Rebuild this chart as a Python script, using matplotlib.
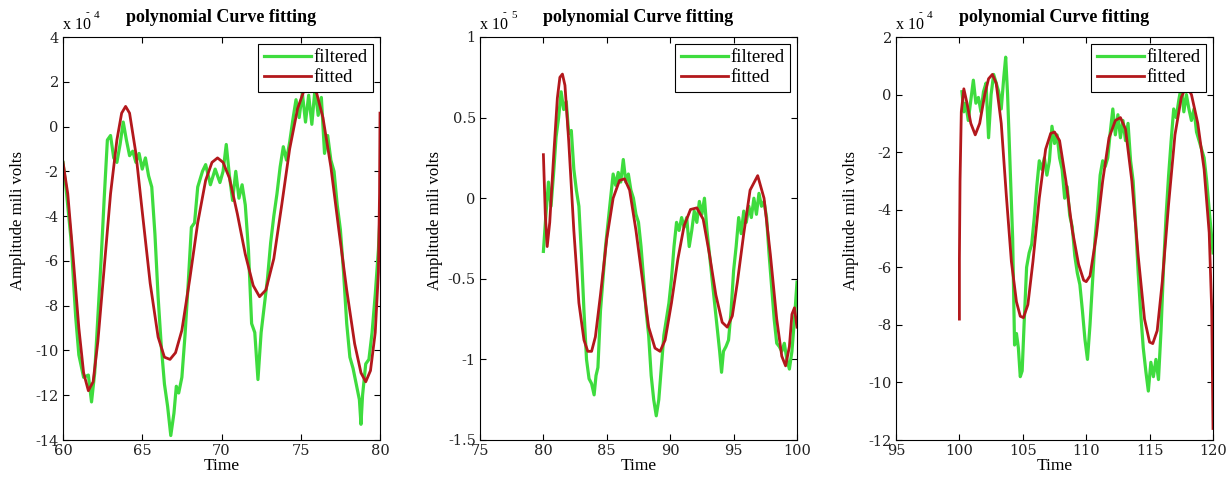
import matplotlib
matplotlib.use("Agg")
import matplotlib.pyplot as plt

plt.rcParams["font.family"] = ["Liberation Serif", "DejaVu Serif"]

GREEN = "#3edc3e"
RED = "#b3181c"

# ---- panel 1 (t = 60..80, x 1e-4) ----
p1_fit_t = [60.0, 60.3, 60.6, 61.0, 61.3, 61.6, 61.9, 62.2, 62.6, 63.0, 63.4, 63.7, 63.95,
            64.2, 64.6, 65.0, 65.5, 66.0, 66.4, 66.75, 67.1, 67.5, 68.0, 68.5, 69.0, 69.4,
            69.75, 70.1, 70.5, 71.0, 71.5, 72.0, 72.4, 72.8, 73.3, 73.8, 74.3, 74.8, 75.2,
            75.6, 76.0, 76.4, 76.9, 77.4, 77.9, 78.4, 78.8, 79.1, 79.4, 79.7, 79.9, 79.97, 80.0]
p1_fit_y = [-1.6, -3.0, -5.5, -9.0, -11.0, -11.8, -11.4, -9.6, -6.3, -3.0, -0.6, 0.6, 0.9,
            0.6, -1.2, -3.8, -7.0, -9.4, -10.3, -10.4, -10.1, -9.1, -6.8, -4.3, -2.4, -1.6,
            -1.4, -1.6, -2.3, -3.9, -5.7, -7.1, -7.6, -7.3, -5.9, -3.5, -1.0, 0.8, 1.6,
            1.8, 1.5, 0.4, -1.8, -4.6, -7.3, -9.7, -11.0, -11.4, -10.9, -9.2, -6.5, -3.0, 0.6]

p1_flt_t = [60.0, 60.2, 60.5, 60.8, 61.0, 61.3, 61.6, 61.8, 62.0, 62.2, 62.4, 62.6, 62.8,
            63.0, 63.2, 63.4, 63.6, 63.8, 64.0, 64.2, 64.4, 64.6, 64.8, 65.0, 65.2, 65.4,
            65.6, 65.8, 66.0, 66.2, 66.4, 66.6, 66.8, 67.0, 67.15, 67.3, 67.5, 67.7, 67.9,
            68.1, 68.3, 68.5, 68.8, 69.0, 69.3, 69.6, 69.9, 70.1, 70.3, 70.5, 70.7, 70.9,
            71.1, 71.3, 71.5, 71.7, 71.9, 72.1, 72.3, 72.5, 72.7, 72.9, 73.1, 73.3, 73.5,
            73.7, 73.9, 74.1, 74.3, 74.5, 74.7, 74.9, 75.1, 75.3, 75.5, 75.7, 75.9, 76.1,
            76.3, 76.5, 76.7, 76.9, 77.1, 77.3, 77.5, 77.7, 77.9, 78.1, 78.3, 78.5, 78.7,
            78.8, 78.9, 79.1, 79.3, 79.5, 79.7, 79.9, 80.0]
p1_flt_y = [-1.6, -2.8, -5.0, -8.5, -10.2, -11.2, -11.1, -12.3, -11.0, -8.5, -6.0, -3.2, -0.6,
            -0.4, -1.4, -1.6, -0.8, 0.2, -0.6, -1.3, -1.1, -1.6, -1.2, -1.9, -1.4, -2.2,
            -2.7, -4.8, -7.6, -9.8, -11.5, -12.5, -13.8, -12.8, -11.6, -11.9, -11.2, -9.3, -7.0,
            -4.5, -4.3, -2.7, -2.0, -1.7, -2.6, -1.9, -2.5, -2.0, -0.8, -2.2, -3.3, -2.0,
            -3.2, -2.6, -3.5, -5.5, -8.8, -9.2, -11.3, -9.2, -8.0, -6.8, -5.2, -4.0, -3.0,
            -1.8, -0.9, -1.5, -0.7, 0.3, 1.2, 0.4, 1.5, 0.2, 1.4, 0.1, 1.7, 0.5,
            1.3, -1.2, -0.4, -1.5, -2.0, -3.5, -4.6, -6.5, -8.8, -10.3, -10.8, -11.5, -12.2,
            -13.3, -12.0, -10.6, -10.4, -9.2, -7.5, -5.5, -4.0]

# ---- panel 2 (t = 80..100, x 1e-5) ----
p2_fit_t = [80.0, 80.15, 80.3, 80.5, 80.8, 81.1, 81.3, 81.5, 81.7, 82.0, 82.4, 82.8, 83.2,
            83.5, 83.8, 84.1, 84.5, 85.0, 85.5, 86.0, 86.4, 86.8, 87.3, 87.8, 88.3, 88.8,
            89.2, 89.6, 90.1, 90.6, 91.1, 91.6, 92.1, 92.6, 93.1, 93.6, 94.1, 94.5, 94.9,
            95.3, 95.8, 96.3, 96.9, 97.4, 97.9, 98.4, 98.8, 99.1, 99.4, 99.6, 99.8, 100.0]
p2_fit_y = [0.27, -0.1, -0.3, -0.15, 0.25, 0.62, 0.75, 0.77, 0.7, 0.35, -0.2, -0.65, -0.88,
            -0.95, -0.95, -0.86, -0.6, -0.25, 0.0, 0.11, 0.12, 0.05, -0.2, -0.5, -0.8, -0.93,
            -0.95, -0.88, -0.65, -0.38, -0.17, -0.07, -0.06, -0.13, -0.35, -0.6, -0.77, -0.8,
            -0.73, -0.52, -0.22, 0.05, 0.14, 0.0, -0.35, -0.75, -0.98, -1.04, -0.92, -0.72, -0.68, -0.8]

p2_flt_t = [80.0, 80.2, 80.4, 80.6, 80.8, 81.0, 81.2, 81.4, 81.6, 81.8, 82.0, 82.2, 82.4,
            82.6, 82.8, 83.0, 83.2, 83.4, 83.6, 83.8, 84.0, 84.15, 84.3, 84.5, 84.7, 84.9,
            85.1, 85.3, 85.5, 85.7, 85.9, 86.1, 86.3, 86.5, 86.7, 86.9, 87.1, 87.3, 87.5,
            87.7, 87.9, 88.1, 88.3, 88.5, 88.7, 88.9, 89.1, 89.3, 89.5, 89.7, 89.9, 90.1,
            90.3, 90.5, 90.7, 90.9, 91.1, 91.3, 91.5, 91.7, 91.9, 92.1, 92.3, 92.5, 92.7,
            92.9, 93.1, 93.3, 93.5, 93.7, 93.9, 94.05, 94.2, 94.4, 94.6, 94.8, 95.0, 95.2,
            95.4, 95.6, 95.8, 96.0, 96.2, 96.4, 96.6, 96.8, 97.0, 97.2, 97.4, 97.6, 97.8,
            98.0, 98.2, 98.4, 98.6, 98.8, 99.0, 99.2, 99.4, 99.6, 99.8, 100.0]
p2_flt_y = [-0.33, -0.1, 0.1, -0.05, 0.15, 0.38, 0.5, 0.66, 0.55, 0.6, 0.4, 0.42, 0.18,
            0.05, -0.05, -0.35, -0.7, -1.0, -1.12, -1.15, -1.22, -1.1, -1.05, -0.7, -0.5, -0.3,
            -0.15, 0.0, 0.15, 0.08, 0.16, 0.1, 0.24, 0.1, 0.15, 0.05, 0.0, -0.1, -0.15,
            -0.3, -0.5, -0.7, -0.85, -1.1, -1.25, -1.35, -1.25, -1.05, -0.85, -0.75, -0.65, -0.5,
            -0.3, -0.15, -0.2, -0.12, -0.18, -0.12, -0.3, -0.2, -0.08, -0.15, -0.02, -0.1, 0.0,
            -0.2, -0.35, -0.5, -0.65, -0.8, -0.95, -1.08, -0.95, -0.92, -0.88, -0.7, -0.45, -0.3,
            -0.12, -0.22, -0.08, -0.15, -0.05, -0.12, 0.0, -0.1, 0.03, -0.05, -0.02, -0.12, -0.35,
            -0.55, -0.75, -0.9, -0.92, -0.95, -0.9, -1.0, -1.06, -0.95, -0.75, -0.52]

# ---- panel 3 (t = 100..120, x 1e-4) ----
p3_fit_t = [100.0, 100.0, 100.05, 100.15, 100.35, 100.6, 100.9, 101.25, 101.6, 102.0, 102.3,
            102.6, 102.9, 103.3, 103.7, 104.1, 104.5, 104.8, 105.05, 105.4, 105.8, 106.3,
            106.8, 107.2, 107.5, 107.9, 108.4, 108.9, 109.4, 109.8, 110.0, 110.3, 110.8,
            111.3, 111.8, 112.3, 112.7, 113.1, 113.6, 114.1, 114.6, 115.0, 115.25, 115.6,
            116.0, 116.5, 117.0, 117.5, 117.9, 118.3, 118.8, 119.3, 119.7, 119.9, 120.0]
p3_fit_y = [-7.8, -5.7, -3.0, -0.6, 0.2, -0.3, -1.0, -1.4, -1.0, 0.0, 0.55,
            0.7, 0.4, -1.0, -3.5, -5.8, -7.2, -7.7, -7.75, -7.3, -5.8, -3.6,
            -1.9, -1.35, -1.3, -1.6, -3.0, -4.7, -5.9, -6.45, -6.5, -6.3, -4.9,
            -3.0, -1.5, -0.9, -0.8, -1.2, -3.0, -5.6, -7.8, -8.6, -8.65, -8.2,
            -6.5, -3.8, -1.4, -0.1, 0.3, 0.0, -1.0, -2.6, -4.8, -7.5, -11.6]

p3_flt_t = [100.2, 100.35, 100.5, 100.7, 100.9, 101.1, 101.3, 101.5, 101.7, 101.9, 102.1,
            102.3, 102.5, 102.7, 102.9, 103.1, 103.3, 103.5, 103.65, 103.8, 104.0, 104.2,
            104.35, 104.5, 104.65, 104.8, 104.95, 105.1, 105.3, 105.5, 105.7, 105.9, 106.1,
            106.3, 106.5, 106.7, 106.9, 107.1, 107.3, 107.5, 107.7, 107.9, 108.1, 108.3,
            108.5, 108.7, 108.9, 109.1, 109.3, 109.5, 109.7, 109.9, 110.1, 110.3, 110.5,
            110.7, 110.9, 111.1, 111.3, 111.5, 111.7, 111.9, 112.1, 112.3, 112.5, 112.7,
            112.9, 113.1, 113.3, 113.5, 113.7, 113.9, 114.1, 114.3, 114.5, 114.7, 114.9,
            115.1, 115.3, 115.5, 115.7, 115.9, 116.1, 116.3, 116.5, 116.7, 116.9, 117.1,
            117.3, 117.5, 117.7, 117.9, 118.1, 118.3, 118.5, 118.7, 118.9, 119.1, 119.3,
            119.5, 119.7, 119.9, 120.0]
p3_flt_y = [0.1, -0.6, -0.3, -0.9, -0.2, 0.5, -0.3, -0.1, -0.6, 0.1, 0.4,
            -1.5, 0.0, 0.7, 0.4, 0.1, -0.5, 0.6, 1.3, 0.0, -2.5, -5.0,
            -8.7, -8.3, -8.8, -9.8, -9.6, -8.0, -6.0, -5.5, -5.2, -4.3, -3.2,
            -2.3, -2.6, -2.2, -2.8, -2.3, -1.1, -1.7, -1.4, -2.2, -2.6, -3.6,
            -3.2, -4.2, -4.6, -5.6, -6.2, -6.6, -7.5, -8.5, -9.2, -8.0, -6.5,
            -5.0, -4.0, -2.8, -2.3, -2.5, -2.2, -1.3, -0.5, -1.4, -0.7, -1.5,
            -0.9, -1.6, -1.0, -2.3, -3.0, -4.5, -6.2, -7.6, -8.8, -9.6, -10.3,
            -9.3, -9.8, -9.2, -9.9, -8.2, -6.0, -4.2, -2.8, -1.6, -0.5, -0.8,
            -0.2, 0.3, -0.6, 0.0, -0.5, -0.9, -0.5, -1.3, -1.6, -1.9, -2.2,
            -3.0, -4.0, -5.0, -5.5]

panels = [
    dict(ft=p1_flt_t, fy=p1_flt_y, rt=p1_fit_t, ry=p1_fit_y, xlim=(60, 80), xstep=5,
         ylim=(-14, 4), yticks=[-14, -12, -10, -8, -6, -4, -2, 0, 2, 4],
         yticklabels=["-14", "-12", "-10", "-8", "-6", "-4", "-2", "0", "2", "4"],
         exp="4", left=63),
    dict(ft=p2_flt_t, fy=p2_flt_y, rt=p2_fit_t, ry=p2_fit_y, xlim=(75, 100), xstep=5,
         ylim=(-1.5, 1), yticks=[-1.5, -1, -0.5, 0, 0.5, 1],
         yticklabels=["-1.5", "-1", "-0.5", "0", "0.5", "1"],
         exp="5", left=480),
    dict(ft=p3_flt_t, fy=p3_flt_y, rt=p3_fit_t, ry=p3_fit_y, xlim=(95, 120), xstep=5,
         ylim=(-12, 2), yticks=[-12, -10, -8, -6, -4, -2, 0, 2],
         yticklabels=["-12", "-10", "-8", "-6", "-4", "-2", "0", "2"],
         exp="4", left=896),
]

W, H = 1228, 480
fig = plt.figure(figsize=(W / 100, H / 100), dpi=100)

ax_w, ax_top, ax_bot = 317, 37, 440
ax_h = ax_bot - ax_top
for p in panels:
    ax = fig.add_axes([p["left"] / W, 1 - ax_bot / H, ax_w / W, ax_h / H])
    ax.plot(p["ft"], p["fy"], color=GREEN, lw=2.3, label="filtered", solid_joinstyle="round")
    ax.plot(p["rt"], p["ry"], color=RED, lw=2.0, label="fitted")
    ax.set_xlim(*p["xlim"])
    ax.set_ylim(*p["ylim"])
    ax.set_xticks(list(range(p["xlim"][0], p["xlim"][1] + 1, p["xstep"])))
    ax.set_yticks(p["yticks"])
    ax.set_yticklabels(p["yticklabels"])
    ax.tick_params(direction="in", top=True, right=True, length=4.5, width=0.8,
                   labelsize=10.5, pad=3, labelcolor="#222222")
    for lab in ax.get_xticklabels() + ax.get_yticklabels():
        lab.set_family("DejaVu Serif")
    for s in ax.spines.values():
        s.set_linewidth(0.8)
    ax.set_xlabel("Time", fontsize=12.5, labelpad=0)
    ax.set_ylabel("Amplitude mili volts", fontsize=12)
    # label sits at about x=26 px (right edge), centred near y=221 px
    ax.yaxis.set_label_coords(-37 / ax_w, (ax_bot - 221) / ax_h)
    leg = ax.legend(loc="upper right", fontsize=13.5, fancybox=False, framealpha=1,
                    edgecolor="black", borderpad=0.3, labelspacing=0.15,
                    handlelength=2.5, handletextpad=0.15, borderaxespad=0.35)
    leg.get_frame().set_linewidth(0.8)

    cx = (p["left"] + ax_w / 2) / W
    fig.text(cx, 1 - 17 / H, "polynomial Curve fitting", ha="center", va="center",
             fontsize=13, fontweight="bold")
    x0 = p["left"] / W
    fig.text(x0, 1 - 25 / H, "x 10", ha="left", va="center", fontsize=11.5)
    fig.text(x0 + 24 / W, 1 - 13 / H, "-", ha="center", va="center", fontsize=8)
    fig.text(x0 + 34 / W, 1 - 15 / H, p["exp"], ha="center", va="center", fontsize=8)

fig.savefig("out.png", dpi=100)
